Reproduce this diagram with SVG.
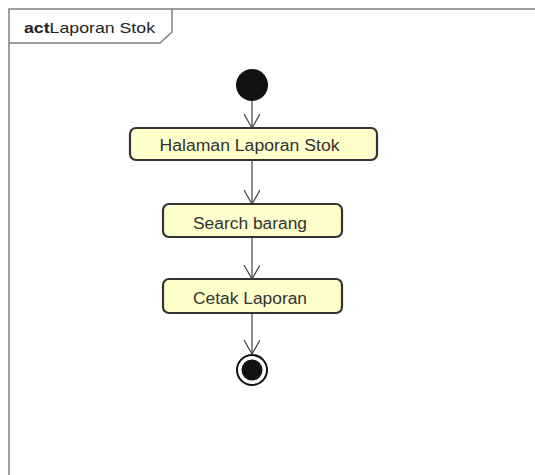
<svg xmlns="http://www.w3.org/2000/svg" width="535" height="475" viewBox="0 0 535 475">
<defs>
<style>
.frame{fill:none;stroke:#808080;stroke-width:1.5}
.act{fill:#ffffcc;stroke:#333;stroke-width:2.2}
.txt{font-family:"Liberation Sans",Arial,sans-serif;font-size:16px;fill:#333;text-anchor:middle}
.edge{fill:none;stroke:#444;stroke-width:1.2}
</style>
<marker id="arr" markerWidth="18" markerHeight="18" refX="14" refY="8" orient="auto" markerUnits="userSpaceOnUse">
<path d="M0,0 L14,8 L0,16" fill="none" stroke="#444" stroke-width="1.2"/>
</marker>
</defs>
<rect x="0" y="0" width="535" height="475" fill="#fff"/>
<g id="frame">
<path class="frame" d="M9,475 L9,9 L536,9"/>
<path class="frame" d="M9,43 L160,43 L172,32 L172,9"/>
<text x="24" y="33" font-family="Liberation Sans,Arial,sans-serif" font-size="15" fill="#222" textLength="131" lengthAdjust="spacingAndGlyphs"><tspan font-weight="bold">act</tspan>Laporan Stok</text>
</g>
<g id="connectors">
<line class="edge" x1="252" y1="101" x2="252" y2="128" marker-end="url(#arr)"/>
<line class="edge" x1="252" y1="160" x2="252" y2="204" marker-end="url(#arr)"/>
<line class="edge" x1="252" y1="237" x2="252" y2="279" marker-end="url(#arr)"/>
<line class="edge" x1="252" y1="313" x2="252" y2="354" marker-end="url(#arr)"/>
</g>
<g id="start">
<circle cx="252" cy="85" r="16" fill="#111"/>
</g>
<g id="halaman">
<rect class="act" x="130" y="128" width="247" height="32" rx="6"/>
<text class="txt" x="249.5" y="151" textLength="180" lengthAdjust="spacingAndGlyphs">Halaman Laporan Stok</text>
</g>
<g id="search">
<rect class="act" x="163" y="204" width="179" height="33" rx="6"/>
<text class="txt" x="250" y="229" textLength="114" lengthAdjust="spacingAndGlyphs">Search barang</text>
</g>
<g id="cetak">
<rect class="act" x="163" y="279" width="179" height="34" rx="6"/>
<text class="txt" x="250" y="304" textLength="114" lengthAdjust="spacingAndGlyphs">Cetak Laporan</text>
</g>
<g id="end">
<circle cx="252" cy="370" r="15" fill="#fff" stroke="#111" stroke-width="2"/>
<circle cx="252" cy="370" r="10.5" fill="#111"/>
</g>
</svg>
